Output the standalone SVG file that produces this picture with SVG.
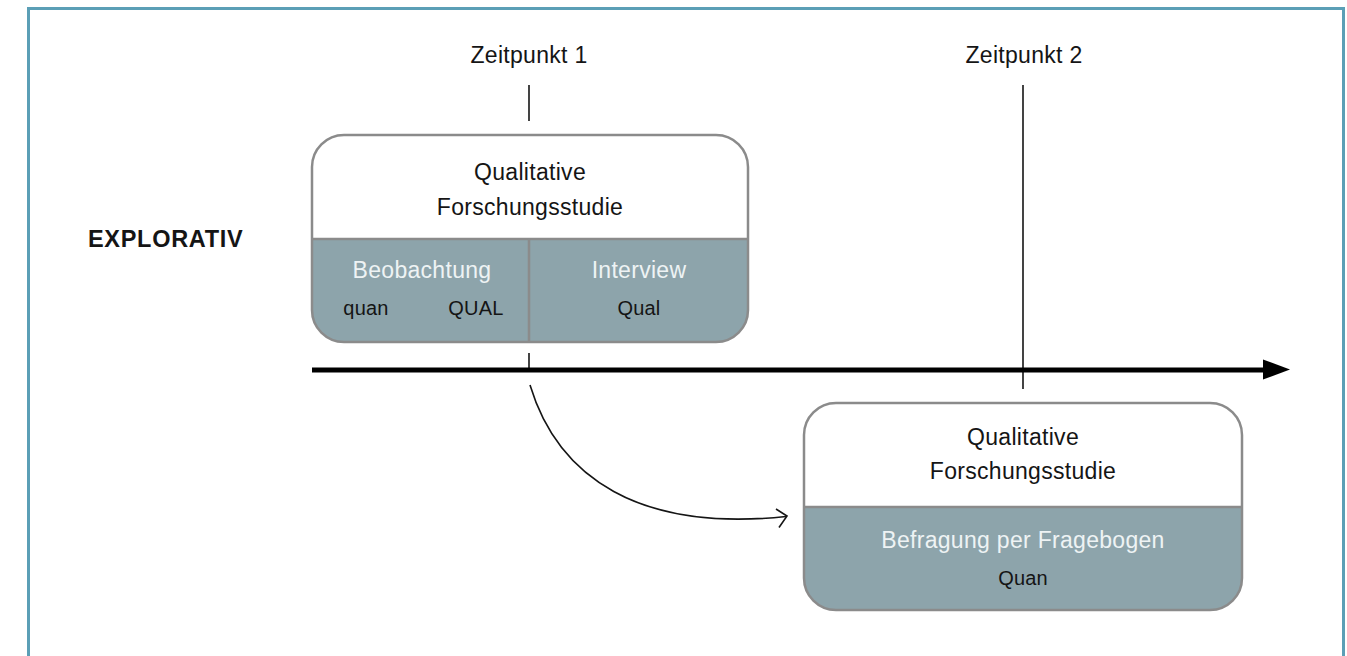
<svg xmlns="http://www.w3.org/2000/svg" width="1347" height="656" viewBox="0 0 1347 656">
<defs>
<style>
.t{font-family:"Liberation Sans",Arial,sans-serif;font-size:23px;letter-spacing:0.3px;fill:#151515;text-anchor:middle}
.w{fill:#eef3f4}
.s{font-size:20px;letter-spacing:0.2px}
.b{font-family:"Liberation Sans",Arial,sans-serif;font-size:23.5px;font-weight:bold;letter-spacing:0.7px;fill:#151515}
.box{fill:none;stroke:#8b8b8b;stroke-width:2.5}
.sub{fill:#8da4ab}
.ln{stroke:#151515;stroke-width:1.6;fill:none}
</style>
</defs>
<rect width="1347" height="656" fill="#ffffff"/>
<rect x="28.5" y="8.5" width="1315" height="720" fill="none" stroke="#5b9fb6" stroke-width="3"/>
<text class="b" x="88" y="247">EXPLORATIV</text>
<g id="connectors">
<line class="ln" x1="529" y1="85" x2="529" y2="121"/>
<line class="ln" x1="529" y1="353" x2="529" y2="370"/>
<line class="ln" x1="1023" y1="85" x2="1023" y2="389"/>
<line x1="312" y1="370" x2="1265" y2="370" stroke="#000" stroke-width="5"/>
<polygon points="1263,359.5 1290,369.5 1263,379.5" fill="#000"/>
<path class="ln" d="M530,385 C558,478 640,532 786,516.5"/>
<polyline class="ln" points="776,509 787,516 779,527.5"/>
</g>
<g id="zeitpunkt1"><text class="t" x="529" y="63">Zeitpunkt 1</text></g>
<g id="zeitpunkt2"><text class="t" x="1024" y="63">Zeitpunkt 2</text></g>
<g id="studie1">
<rect x="312" y="135" width="436" height="207" rx="32" fill="#fff"/>
<path class="sub" d="M312,239 H748 V310 A32,32 0 0 1 716,342 H344 A32,32 0 0 1 312,310 Z"/>
<line x1="312" y1="239" x2="748" y2="239" stroke="#8b8b8b" stroke-width="2.5"/>
<line x1="529" y1="239" x2="529" y2="342" stroke="#8b8b8b" stroke-width="2.5"/>
<rect class="box" x="312" y="135" width="436" height="207" rx="32"/>
<text class="t" x="530" y="180">Qualitative</text>
<text class="t" x="530" y="215">Forschungsstudie</text>
<text class="t w" x="422" y="278">Beobachtung</text>
<text class="t s" x="366" y="315">quan</text>
<text class="t s" x="476" y="315">QUAL</text>
<text class="t w" x="639" y="278">Interview</text>
<text class="t s" x="639" y="315">Qual</text>
</g>
<g id="studie2">
<rect x="804" y="403" width="438" height="207" rx="32" fill="#fff"/>
<path class="sub" d="M804,507 H1242 V578 A32,32 0 0 1 1210,610 H836 A32,32 0 0 1 804,578 Z"/>
<line x1="804" y1="507" x2="1242" y2="507" stroke="#8b8b8b" stroke-width="2.5"/>
<rect class="box" x="804" y="403" width="438" height="207" rx="32"/>
<text class="t" x="1023" y="445">Qualitative</text>
<text class="t" x="1023" y="479">Forschungsstudie</text>
<text class="t w" x="1023" y="548">Befragung per Fragebogen</text>
<text class="t s" x="1023" y="585">Quan</text>
</g>
</svg>
